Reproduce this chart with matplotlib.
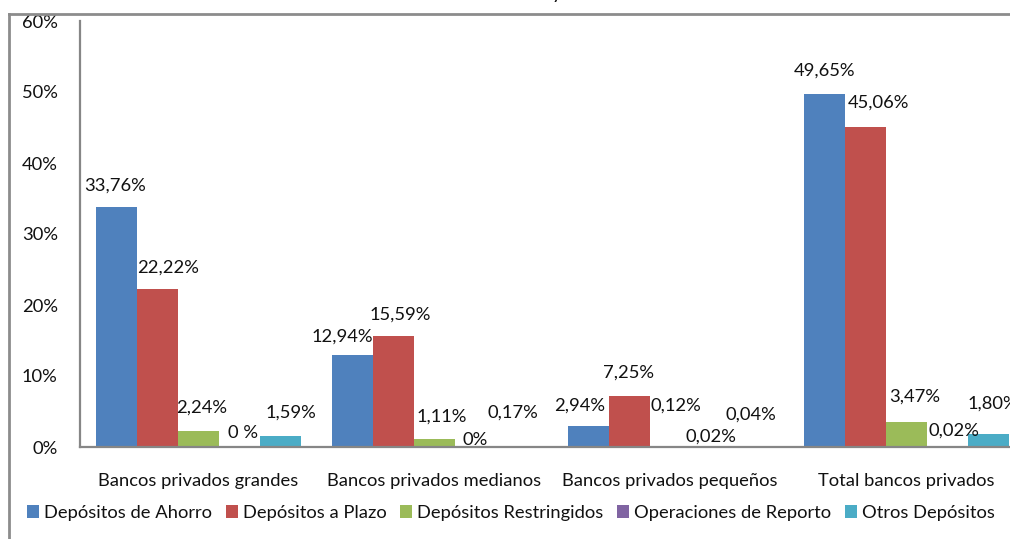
import matplotlib
matplotlib.use("Agg")
import matplotlib.pyplot as plt
from matplotlib.lines import Line2D
import numpy as np

plt.rcParams['font.family'] = ['Lato', 'DejaVu Sans']

categories = ["Bancos privados grandes", "Bancos privados medianos",
              "Bancos privados pequeños", "Total bancos privados"]
series_names = ["Depósitos de Ahorro", "Depósitos a Plazo", "Depósitos Restringidos",
                "Operaciones de Reporto", "Otros Depósitos"]
ahorro = [33.76, 12.94, 2.94, 49.65]
plazo = [22.22, 15.59, 7.25, 45.06]
restringidos = [2.24, 1.11, 0.12, 3.47]
reporto = [0.0, 0.0, 0.02, 0.02]
otros = [1.59, 0.17, 0.04, 1.80]
labels_ahorro = ["33,76%", "12,94%", "2,94%", "49,65%"]
labels_plazo = ["22,22%", "15,59%", "7,25%", "45,06%"]
labels_restr = ["2,24%", "1,11%", "0,12%", "3,47%"]
labels_reporto = ["0 %", "0%", "0,02%", "0,02%"]
labels_otros = ["1,59%", "0,17%", "0,04%", "1,80%"]
yticks = [0, 10, 20, 30, 40, 50, 60]
ytick_labels = ["0%", "10%", "20%", "30%", "40%", "50%", "60%"]

colors = ["#4F81BD", "#C0504D", "#9BBB59", "#8064A2", "#4BACC6"]

# label offsets in pixels (dx, dy) from each bar's top centre
offsets = [
    [(-1, 22), (-9.5, 19), (-8.5, 21), (0.5, 23.5)],
    [(11.5, 22), (7.5, 22), (-0.5, 22.5), (13.5, 24)],
    [(3.5, 23), (7.5, 22), (5.5, 41), (8.5, 26)],
    [(4.5, 14), (0, 7), (-0.5, 10), (6.5, 16)],
    [(10.5, 23), (-3.5, 33), (-1.5, 32), (4.5, 31)],
]

series = [ahorro, plazo, restringidos, reporto, otros]
all_labels = [labels_ahorro, labels_plazo, labels_restr, labels_reporto, labels_otros]

W, H = 1010, 539
fig = plt.figure(figsize=(W / 100, H / 100), dpi=100)
ax = fig.add_axes([80 / W, 1 - 447 / H, (1024 - 80) / W, (447 - 21) / H])

x = np.arange(len(categories))
bw = 41 / 236
txt = "#111111"
fs = 13.2
for i, (vals, labs) in enumerate(zip(series, all_labels)):
    pos = x - 2 * bw + i * bw
    ax.bar(pos, vals, width=bw, color=colors[i], label=series_names[i], linewidth=0)
    for j in range(len(vals)):
        dx, dy = offsets[i][j]
        ax.annotate(labs[j], (pos[j], vals[j]), xytext=(dx, dy), textcoords='offset pixels',
                    ha='center', va='center', fontsize=fs, color=txt, annotation_clip=False)

ax.set_xlim(-0.5, 3.5)
ax.set_ylim(0, 60)
ax.set_yticks(yticks)
ax.set_yticklabels(ytick_labels, fontsize=fs, color=txt)
ax.set_xticks(x)
ax.set_xticklabels(categories, fontsize=fs, color=txt)
ax.tick_params(axis='both', length=0)
ax.tick_params(axis='y', pad=16)
ax.tick_params(axis='x', pad=19)
for s in ['top', 'right']:
    ax.spines[s].set_visible(False)
for s in ['left', 'bottom']:
    ax.spines[s].set_color('#868686')
    ax.spines[s].set_linewidth(1.6)

leg = fig.legend(loc='center', bbox_to_anchor=(511 / W, 1 - 513 / H), ncol=5, frameon=False,
                 fontsize=fs, handlelength=0.65, handleheight=0.65, handletextpad=0.3,
                 columnspacing=0.72, borderaxespad=0)
for t in leg.get_texts():
    t.set_color(txt)

# chart frame (partially visible)
fig.add_artist(Line2D([9 / W, 9 / W], [0, 1 - 14 / H], transform=fig.transFigure,
                      color='#8c8c8c', linewidth=2))
fig.add_artist(Line2D([9 / W, 1], [1 - 14 / H, 1 - 14 / H], transform=fig.transFigure,
                      color='#8c8c8c', linewidth=2))
# clipped title fragment
fig.text(557 / W, 1 + 1 / H, "y", ha='center', va='baseline', fontsize=14, color=txt)

fig.savefig("out.png", dpi=100)
